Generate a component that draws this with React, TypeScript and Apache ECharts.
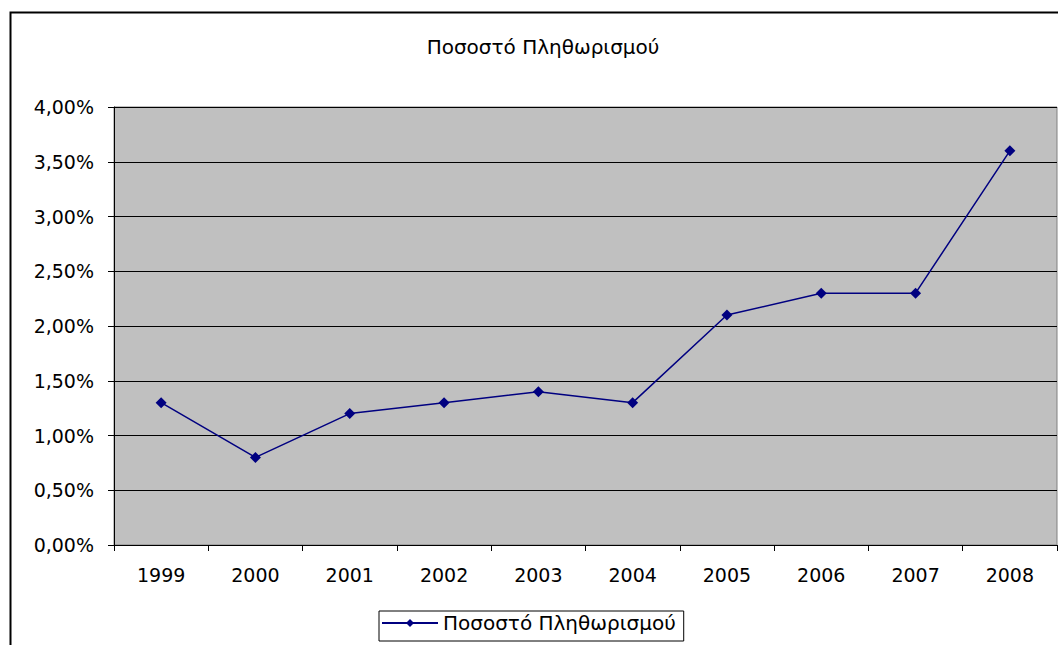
import React, { useEffect, useRef } from "react";
import * as echarts from "echarts";

const years = ["1999", "2000", "2001", "2002", "2003", "2004", "2005", "2006", "2007", "2008"];
const inflation = [1.3, 0.8, 1.2, 1.3, 1.4, 1.3, 2.1, 2.3, 2.3, 3.6];
const seriesName = "Ποσοστό Πληθωρισμού";
const titleText = "Ποσοστό Πληθωρισμού";

export default function App() {
  const ref = useRef<HTMLDivElement>(null);
  useEffect(() => {
    if (!ref.current) return;
    const chart = echarts.init(ref.current, null, { renderer: "svg" });
    const font = "'DejaVu Sans', Verdana, sans-serif";
    chart.setOption({
      animation: false,
      backgroundColor: "#ffffff",
      textStyle: { fontFamily: font },
      title: {
        text: titleText,
        left: 538,
        textAlign: "center",
        top: 32,
        textStyle: { fontSize: 20, fontWeight: "normal", color: "#000", fontFamily: font },
      },
      graphic: [
        {
          type: "rect",
          shape: { x: 10.5, y: 12.5, width: 1100, height: 700 },
          style: { fill: "none", stroke: "#000", lineWidth: 2 },
          silent: true,
          z: -1,
        },
      ],
      grid: {
        left: 114,
        top: 107,
        right: 1,
        bottom: 100,
        show: true,
        backgroundColor: "#C0C0C0",
        borderColor: "#808080",
        borderWidth: 1,
      },
      legend: {
        data: [seriesName],
        left: 379,
        top: 611,
        itemWidth: 56,
        itemHeight: 10,
        itemGap: 0,
        padding: [2, 8, 8, 2],
        borderColor: "#000",
        borderWidth: 1,
        textStyle: { fontSize: 20, color: "#000", fontFamily: font },
      },
      xAxis: {
        type: "category",
        data: years,
        boundaryGap: true,
        axisLine: { lineStyle: { color: "#000", width: 1 } },
        axisTick: { show: true, length: 6, lineStyle: { color: "#000" } },
        axisLabel: { color: "#000", fontSize: 19, margin: 20, fontFamily: font },
        splitLine: { show: false },
      },
      yAxis: {
        type: "value",
        min: 0,
        max: 4,
        interval: 0.5,
        axisLine: { show: true, lineStyle: { color: "#000", width: 1 } },
        axisTick: { show: true, length: 6, lineStyle: { color: "#000" } },
        axisLabel: {
          color: "#000",
          fontSize: 19,
          margin: 20,
          fontFamily: font,
          formatter: (v: number) => v.toFixed(2).replace(".", ",") + "%",
        },
        splitLine: { show: true, lineStyle: { color: "#000", width: 1 } },
      },
      series: [
        {
          name: seriesName,
          type: "line",
          data: inflation,
          symbol: "diamond",
          symbolSize: 11,
          showSymbol: true,
          color: "#000080",
          lineStyle: { color: "#000080", width: 1.5 },
          itemStyle: { color: "#000080" },
        },
      ],
    });
    return () => chart.dispose();
  }, []);
  return (
    <div
      ref={ref}
      style={{ position: "fixed", left: 0, top: 0, width: 1058, height: 645 }}
    />
  );
}
